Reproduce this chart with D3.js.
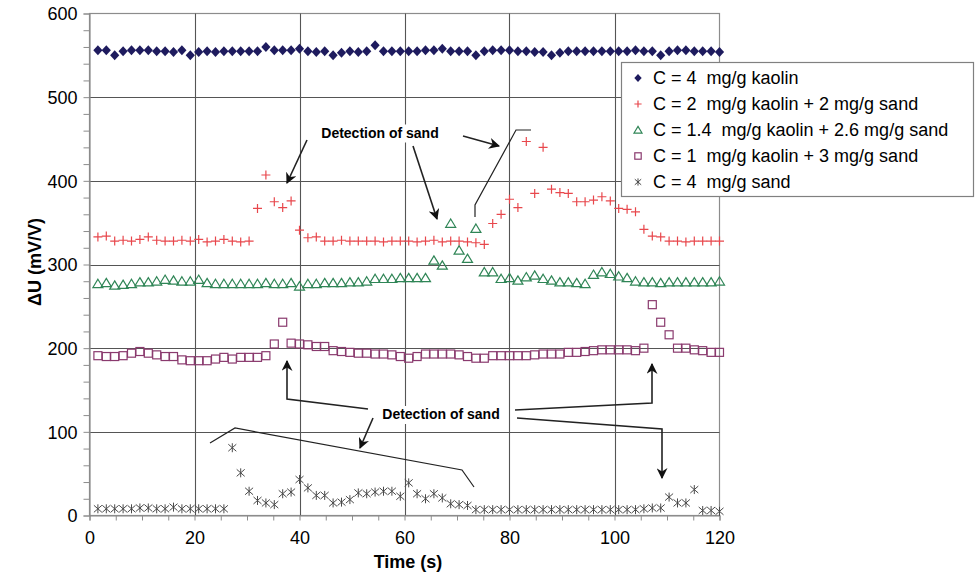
<!DOCTYPE html>
<html><head><meta charset="utf-8">
<script src="https://cdn.jsdelivr.net/npm/d3@7"></script>
<style>
html,body{margin:0;padding:0;background:#fff;}
svg{display:block;font-family:Arial,"Liberation Sans",sans-serif;}
</style></head>
<body>
<svg id="chart" width="976" height="573"></svg>
<script>
// ---- data ----
const times = d3.range(1, 76).map(i => +(i * 1.6).toFixed(1));
const kaolin = [556,556,550,555,556,556,556,555,555,554,556,550,554,555,554,555,555,555,555,555,
  560,556,556,556,558,555,554,555,550,553,555,554,555,562,555,555,555,555,555,556,
  556,558,555,555,555,550,555,556,556,556,555,555,554,554,550,553,555,555,555,555,
  555,555,555,555,556,555,555,550,555,556,556,555,555,555,554];
const mix2 = [333,334,328,329,328,330,333,329,328,328,329,328,330,327,328,330,328,327,328,
  367,407,375,368,376,341,332,333,
  328,328,329,328,328,328,328,327,328,328,328,327,328,329,327,328,328,327,326,324,
  349,360,378,368,447,385,440,390,386,385,375,375,377,381,376,367,366,363,342,334,333,
  328,328,327,328,328,328,328];
const mix14 = [277,278,275,276,277,279,279,280,282,281,280,280,282,278,277,277,277,277,277,277,
  278,277,277,278,274,277,277,278,278,278,279,279,280,283,283,283,284,284,284,284,
  305,299,349,317,307,343,291,291,283,284,281,285,287,283,281,279,279,278,277,288,
  291,289,286,284,280,279,279,278,279,279,279,279,279,279,280];
const mix1 = [191,190,190,191,194,196,194,192,190,190,186,185,185,185,187,189,187,189,189,189,
  191,205,231,206,205,204,202,202,197,196,195,194,194,193,193,192,190,188,190,193,
  193,193,193,192,190,188,188,191,191,191,191,191,192,193,193,193,195,195,196,197,
  198,198,198,198,197,200,252,231,216,200,200,198,197,195,195];
const sand = [8,8,8,8,8,9,9,8,8,10,8,8,8,8,8,8,
  81,51,29,18,15,13,26,28,43,33,24,24,15,16,19,27,26,28,29,29,23,39,26,20,26,21,14,13,12,
  7,7,7,7,7,7,7,7,7,7,7,7,7,7,7,7,7,7,7,7,
  8,9,9,22,15,15,31,6,6,5];
const xTicks = [0,20,40,60,80,100,120];
const yTicks = [0,100,200,300,400,500,600];
const legendLabels = ["C = 4  mg/g kaolin","C = 2  mg/g kaolin + 2 mg/g sand",
  "C = 1.4  mg/g kaolin + 2.6 mg/g sand","C = 1  mg/g kaolin + 3 mg/g sand","C = 4  mg/g sand"];

// ---- setup ----
const svg = d3.select("#chart");
const L = 89.5, R = 719.5, T = 13.5, B = 515.5;
const x = d3.scaleLinear().domain([0,120]).range([L,R]);
const y = d3.scaleLinear().domain([0,600]).range([B,T]);
const grid = "#8c8c8c";

svg.append("rect").attr("x",L).attr("y",T).attr("width",R-L).attr("height",B-T)
  .attr("fill","#fff").attr("stroke",grid).attr("stroke-width",1.2);

const g = svg.append("g");
g.selectAll(".vg").data(xTicks.slice(1,-1)).join("line")
  .attr("x1",d=>Math.round(x(d))+0.5).attr("x2",d=>Math.round(x(d))+0.5).attr("y1",T).attr("y2",B)
  .attr("stroke","#555").attr("stroke-width",1.1);
g.selectAll(".hg").data(yTicks.slice(1,-1)).join("line")
  .attr("y1",d=>Math.round(y(d))+0.5).attr("y2",d=>Math.round(y(d))+0.5).attr("x1",L).attr("x2",R)
  .attr("stroke","#555").attr("stroke-width",1.1);

// axes
const yAxis = d3.axisLeft(y).tickValues(d3.range(0,601,20)).tickSize(6).tickFormat(d=> d%100===0 ? d : "");
const xAxis = d3.axisBottom(x).tickValues(d3.range(0,121,5)).tickSize(5).tickFormat(d=> d%20===0 ? d : "");
const ya = svg.append("g").attr("transform",`translate(${L},0)`).call(yAxis);
const xa = svg.append("g").attr("transform",`translate(0,${B})`).call(xAxis);
[ya,xa].forEach(a=>{
  a.selectAll("path.domain").attr("stroke",grid).attr("stroke-width",1.2);
  a.selectAll(".tick line").attr("stroke",grid);
  a.selectAll("text").attr("font-size",18).attr("fill","#000").attr("font-family","Arial, 'Liberation Sans', sans-serif");
});
ya.selectAll("text").attr("x",-12).attr("dy","0.36em");
xa.selectAll("text").attr("y",16);

svg.append("text").attr("x",408).attr("y",568).attr("text-anchor","middle")
  .attr("font-size",18).attr("font-weight","bold").text("Time (s)");
svg.append("text").attr("transform","translate(41,262) rotate(-90)").attr("text-anchor","middle")
  .attr("font-size",18).attr("font-weight","bold").text("\u0394U (mV/V)");

// markers
const shapes = [
  {data:kaolin, draw:(s,k)=>s.append("path").attr("d",`M0,${-5*k}L${4.6*k},0L0,${5*k}L${-4.6*k},0Z`).attr("fill","#1e1b5e")},
  {data:mix2, draw:(s,k)=>s.append("path").attr("d",`M${-4.5*k},0H${4.5*k}M0,${-4.5*k}V${4.5*k}`).attr("stroke","#e8474c").attr("stroke-width",1.2).attr("fill","none")},
  {data:mix14, draw:(s,k)=>s.append("path").attr("d",`M0,${-4.5*k}L${5*k},${3.8*k}L${-5*k},${3.8*k}Z`).attr("stroke","#2f8556").attr("stroke-width",1.2).attr("fill","none")},
  {data:mix1, draw:(s,k)=>s.append("rect").attr("x",-4*k).attr("y",-4*k).attr("width",8*k).attr("height",8*k).attr("stroke","#8a3a6e").attr("stroke-width",1.2).attr("fill","none")},
  {data:sand, draw:(s,k)=>s.append("path").attr("d",`M${-4*k},${-3.5*k}L${4*k},${3.5*k}M${-4*k},${3.5*k}L${4*k},${-3.5*k}M0,${-4.5*k}V${4.5*k}`).attr("stroke","#4a4a4a").attr("stroke-width",1).attr("fill","none")}
];
shapes.forEach(sh=>{
  const pts = svg.append("g").selectAll("g").data(sh.data.map((v,i)=>({t:times[i],v})))
    .join("g").attr("transform",d=>`translate(${x(d.t)},${y(d.v)})`);
  sh.draw(pts,1);
});

// annotations
const defs = svg.append("defs");
defs.append("marker").attr("id","arr").attr("viewBox","0 0 10 10").attr("refX",9).attr("refY",5)
  .attr("markerWidth",11).attr("markerHeight",11).attr("markerUnits","userSpaceOnUse").attr("orient","auto")
  .append("path").attr("d","M0,0L10,5L0,10L3,5Z").attr("fill","#111");
const ann = svg.append("g").attr("fill","none").attr("stroke","#222").attr("stroke-width",1.6);
const line = d3.line();
const arrows = [
  [[307,140],[287,183]],
  [[413,146],[437,219]],
  [[463,136],[499,146]],
  [[368,409],[287,399],[287,361]],
  [[373,418],[360,448]],
  [[515,410],[652,403],[652,364]],
  [[517,418],[662,429],[662,478]]
];
arrows.forEach(p=> ann.append("path").attr("d",line(p)).attr("marker-end","url(#arr)"));
ann.append("path").attr("d",line([[475,217],[475,205],[516,130],[531,130]])).attr("stroke-width",1.2);
ann.append("path").attr("d",line([[210,443],[235,428],[462,470],[474,487]])).attr("stroke-width",1.2);

[[380,137.5],[441,419]].forEach(([cx,cy])=>{
  svg.append("rect").attr("x",cx-66).attr("y",cy-13).attr("width",132).attr("height",18).attr("fill","#fff");
  svg.append("text").attr("x",cx).attr("y",cy).attr("text-anchor","middle")
    .attr("font-size",14).attr("font-weight","bold").text("Detection of sand");
});

// legend
const lg = svg.append("g");
lg.append("rect").attr("x",621.5).attr("y",62.5).attr("width",352).attr("height",134)
  .attr("fill","#fff").attr("stroke","#808080").attr("stroke-width",1.2);
legendLabels.forEach((lab,k)=>{
  const cy = 78 + k*26;
  const m = lg.append("g").attr("transform",`translate(638,${cy})`);
  shapes[k].draw(m,0.8);
  lg.append("text").attr("x",653).attr("y",cy).attr("dy","0.36em").attr("font-size",18)
    .style("white-space","pre").attr("xml:space","preserve").text(lab);
});
</script>
</body></html>
